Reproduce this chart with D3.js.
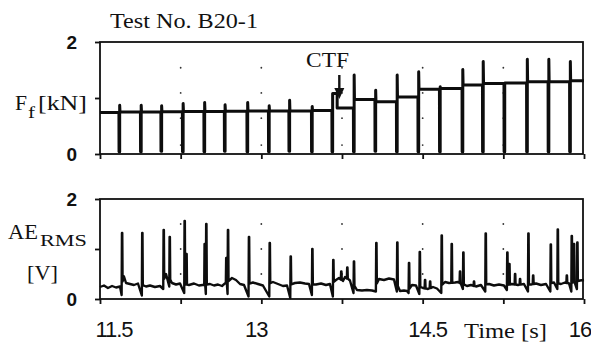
<!DOCTYPE html>
<html>
<head>
<meta charset="utf-8">
<script src="https://cdn.jsdelivr.net/npm/d3@7"></script>
<style>
  body { margin: 0; background: #fff; }
  svg { display: block; }
  .serif { font-family: "Liberation Serif", "Times New Roman", serif; fill: #111; }
  .tick text { font-family: "Liberation Sans", Arial, sans-serif; fill: #111; }
</style>
</head>
<body>
<div id="chart"></div>
<script>
// time axis
var xTicks = [11.5, 12.25, 13, 13.75, 14.5, 15.25, 16];
var xLabels = [11.5, 13, 14.5, 16];
var yTicks = [0, 1, 2];
var yLabels = [0, 2];
var topDots = [0.16, 0.64, 1.09, 1.54];
var botDots = [0.5, 1.0, 1.5];

// friction force Ff [kN]: spike times, spike low/high, level after each spike
var fSpikeT = [11.68, 11.88, 12.07, 12.27, 12.47, 12.66, 12.87, 13.07, 13.26, 13.47, 13.66,
               13.86, 14.06, 14.26, 14.46, 14.66, 14.87, 15.06, 15.26, 15.47, 15.67, 15.87];
var fSpikeLow = [0.04, 0.04, 0.05, 0.04, 0.04, 0.05, 0.04, 0.04, 0.05, 0.04, 0.04,
                 0.04, 0.05, 0.04, 0.04, 0.04, 0.04, 0.04, 0.04, 0.04, 0.04, 0.04];
var fSpikeHigh = [0.87, 0.87, 0.86, 0.9, 0.92, 0.88, 0.92, 0.86, 0.96, 0.85, 1.08,
                  1.41, 1.14, 1.41, 1.47, 1.2, 1.51, 1.65, 1.27, 1.69, 1.69, 1.65];
var fLevel = [0.74, 0.75, 0.75, 0.755, 0.76, 0.76, 0.765, 0.77, 0.77, 0.77, 0.775,
              0.82, 0.975, 0.935, 1.02, 1.155, 1.17, 1.23, 1.26, 1.27, 1.29, 1.29, 1.31];
var ctfT = 13.66;

// AE RMS [V]: baseline readings and spikes
var aeBaseT = [11.5, 11.537, 11.574, 11.612, 11.649, 11.686, 11.723, 11.742, 11.779, 11.816, 11.853,
  11.928, 11.965, 12.011, 12.058, 12.114, 12.169, 12.207, 12.244, 12.327, 12.374, 12.42,
  12.523, 12.56, 12.597, 12.634, 12.727, 12.764, 12.802, 12.839, 12.922, 12.969, 13.015,
  13.108, 13.155, 13.201, 13.239, 13.313, 13.359, 13.406, 13.443, 13.508, 13.555, 13.601, 13.638,
  13.694, 13.722, 13.759, 13.778, 13.824, 13.889, 13.936, 13.982, 14.029, 14.094, 14.14, 14.187, 14.233,
  14.289, 14.326, 14.354, 14.401, 14.438, 14.503, 14.549, 14.596, 14.633, 14.708, 14.745, 14.801, 14.828,
  14.912, 14.949, 14.996, 15.042, 15.117, 15.163, 15.21, 15.256, 15.33, 15.386, 15.442,
  15.507, 15.554, 15.6, 15.647, 15.721, 15.786, 15.823, 15.861, 15.963, 16.0];
var aeBaseV = [0.24, 0.27, 0.22, 0.26, 0.23, 0.25, 0.45, 0.32, 0.3, 0.28, 0.31,
  0.25, 0.27, 0.24, 0.26, 0.5, 0.32, 0.29, 0.31, 0.28, 0.31, 0.27,
  0.3, 0.27, 0.29, 0.26, 0.42, 0.38, 0.3, 0.28, 0.33, 0.3, 0.27,
  0.34, 0.3, 0.26, 0.27, 0.32, 0.33, 0.31, 0.3, 0.29, 0.31, 0.28, 0.3,
  0.38, 0.42, 0.36, 0.44, 0.37, 0.18, 0.17, 0.18, 0.17, 0.4, 0.38, 0.41, 0.39,
  0.16, 0.17, 0.16, 0.28, 0.27, 0.22, 0.2, 0.24, 0.21, 0.34, 0.32, 0.33, 0.34,
  0.26, 0.28, 0.25, 0.28, 0.3, 0.27, 0.29, 0.27, 0.3, 0.28, 0.3,
  0.29, 0.31, 0.28, 0.3, 0.33, 0.3, 0.33, 0.31, 0.37, 0.38];
var aeSpikeT = [11.705, 11.893, 12.092, 12.148, 12.287, 12.304, 12.473, 12.488, 12.674, 12.69, 12.885,
  13.078, 13.273, 13.474, 13.669, 13.743, 13.799, 13.861, 14.069, 14.264, 14.373, 14.473,
  14.522, 14.569, 14.677, 14.77, 14.847, 14.878, 14.977, 15.086, 15.287, 15.306, 15.359, 15.405,
  15.483, 15.527, 15.691, 15.756, 15.84, 15.886, 15.907, 15.938];
var aeSpikePeak = [1.32, 1.32, 1.38, 1.24, 1.56, 0.9, 1.1, 1.5, 0.82, 1.38, 1.24,
  1.12, 0.85, 1.0, 0.78, 0.55, 0.63, 0.75, 1.12, 1.13, 0.72, 0.94,
  0.38, 0.35, 1.27, 1.1, 0.55, 0.93, 0.35, 1.31, 0.93, 0.7, 0.5, 0.4,
  1.31, 0.47, 1.09, 1.39, 0.47, 1.26, 1.1, 1.13];
var aeSpikeDip = [0.08, 0.07, 0.2, 0.25, 0.12, null, null, 0.1, null, 0.1, 0.05,
  0.05, 0.02, 0.08, 0.05, null, null, 0.12, 0.15, 0.15, 0.12, 0.1,
  null, null, 0.12, null, null, 0.2, null, 0.15, 0.18, null, null, null,
  0.15, null, 0.15, 0.2, null, 0.15, null, 0.2];

var W = 591, H = 345;
var svg = d3.select("#chart").append("svg").attr("width", W).attr("height", H);

var x = d3.scaleLinear().domain([11.5, 16]).range([100, 584]);
var yTop = d3.scaleLinear().domain([0, 2]).range([154, 42]);
var yBot = d3.scaleLinear().domain([0, 2]).range([299, 199]);

function panel(y, dots) {
  var g = svg.append("g");
  g.append("rect")
    .attr("x", x(11.5)).attr("y", y(2))
    .attr("width", x(16) - 1 - x(11.5)).attr("height", y(0) - y(2))
    .attr("fill", "none").attr("stroke", "#111").attr("stroke-width", 1.8);
  // dotted grid
  var pts = [];
  xTicks.slice(1, -1).forEach(function(t){ dots.forEach(function(v){ pts.push([t, v]); }); });
  g.selectAll(".dot").data(pts).enter().append("circle")
    .attr("cx", function(d){ return x(d[0]); })
    .attr("cy", function(d){ return y(d[1]); })
    .attr("r", 0.9).attr("fill", "#333");
  var ax = g.append("g").attr("transform", "translate(0," + y(0) + ")")
    .call(d3.axisBottom(x).tickValues(xTicks).tickSize(5).tickFormat(""));
  ax.select(".domain").remove();
  ax.selectAll("line").attr("stroke", "#111").attr("stroke-width", 1.8);
  var ay = g.append("g").attr("transform", "translate(" + x(11.5) + ",0)")
    .call(d3.axisLeft(y).tickValues(yTicks).tickSize(5).tickPadding(18)
      .tickFormat(function(d){ return yLabels.indexOf(d) >= 0 ? d : ""; }));
  ay.select(".domain").remove();
  ay.selectAll("line").attr("stroke", "#111").attr("stroke-width", 1.8);
  ay.selectAll("text").style("font-size", "19px").attr("font-weight", "bold");
  return g;
}

panel(yTop, topDots);
var gb = panel(yBot, botDots);

// x labels under the lower panel
var labOff = [14, -5, 5, -4];
gb.selectAll(".xl").data(xLabels).enter().append("text")
  .attr("class", "xl")
  .attr("x", function(d, i){ return x(d) + labOff[i]; })
  .attr("y", 337)
  .attr("text-anchor", "middle")
  .style("font-family", "Liberation Sans, Arial, sans-serif")
  .style("font-size", "22px").style("letter-spacing", "-1px")
  .attr("fill", "#111")
  .text(function(d){ return d; });

// Ff trace
var fPts = [[11.5, fLevel[0]]];
fSpikeT.forEach(function(t, i){
  fPts.push([t - 0.004, fLevel[i]]);
  fPts.push([t - 0.003, fSpikeLow[i]]);
  fPts.push([t + 0.003, fSpikeLow[i]]);
  fPts.push([t + 0.003, fSpikeHigh[i]]);
  if (t === ctfT) {
    fPts.push([t + 0.045, fSpikeHigh[i]]);
    fPts.push([t + 0.045, fLevel[i + 1]]);
  } else {
    fPts.push([t + 0.006, fLevel[i + 1]]);
  }
});
fPts.push([16, fLevel[fLevel.length - 1]]);

var line = d3.line().x(function(d){ return x(d[0]); });
svg.append("path")
  .attr("d", line.y(function(d){ return yTop(d[1]); })(fPts))
  .attr("fill", "none").attr("stroke", "#0d0d0d")
  .attr("stroke-width", 3).attr("stroke-linejoin", "round");

// AE trace
var base = d3.scaleLinear().domain(aeBaseT).range(aeBaseV);
var ev = aeBaseT.map(function(t, i){ return [t, aeBaseV[i]]; });
aeSpikeT.forEach(function(t, i){
  var b = base(t);
  var dip = aeSpikeDip[i] == null ? b : aeSpikeDip[i];
  ev.push([t - 0.004, dip]);
  ev.push([t - 0.001, aeSpikePeak[i]]);
  ev.push([t + 0.002, aeSpikePeak[i]]);
  ev.push([t + 0.005, b]);
});
ev.sort(function(a, b){ return a[0] - b[0]; });
svg.append("path")
  .attr("d", line.y(function(d){ return yBot(d[1]); })(ev))
  .attr("fill", "none").attr("stroke", "#0d0d0d")
  .attr("stroke-width", 2.4).attr("stroke-linejoin", "round");

// texts
function label(str, px, py, size, len) {
  var t = svg.append("text").attr("class", "serif").attr("x", px).attr("y", py)
    .style("font-size", size + "px").text(str);
  if (len) t.attr("textLength", len).attr("lengthAdjust", "spacingAndGlyphs");
  return t;
}
label("Test No. B20-1", 110, 28, 21, 148);
label("F", 15, 110, 22, 12);
label("f", 28, 118, 16, 7);
label("[kN]", 38, 110, 21, 49);

label("AE", 8, 239, 22, 30);
label("RMS", 40, 246, 17, 47);
label("[V]", 27, 280, 21, 31);

label("CTF", 306, 67, 21, 43);
label("Time [s]", 464, 338, 22, 83);

// CTF arrow
var ax0 = x(ctfT) + 7;
svg.append("line").attr("x1", ax0).attr("x2", ax0).attr("y1", 75).attr("y2", 92)
  .attr("stroke", "#111").attr("stroke-width", 2.4);
svg.append("path")
  .attr("d", "M" + (ax0 - 5) + ",88 L" + (ax0 + 5) + ",88 L" + ax0 + ",99 Z")
  .attr("fill", "#111");
</script>
</body>
</html>
